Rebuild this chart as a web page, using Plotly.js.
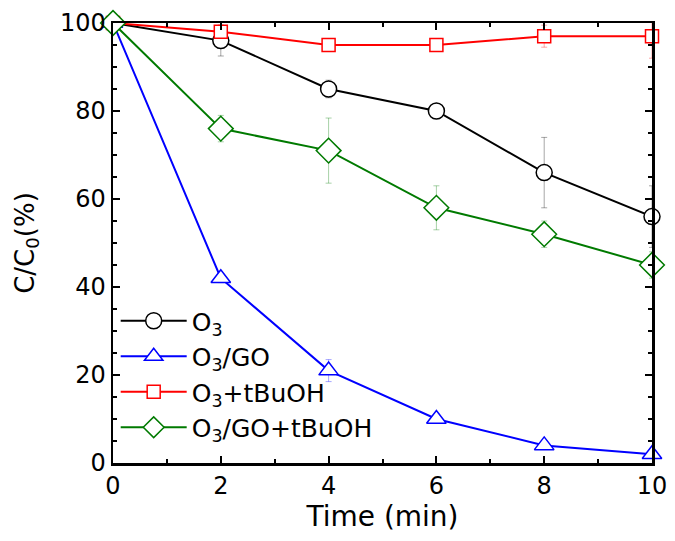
<!DOCTYPE html>
<html>
<head>
<meta charset="utf-8">
<script src="https://cdn.plot.ly/plotly-3.0.1.min.js"></script>
<style>html,body{margin:0;padding:0;background:#fff;}#chart{width:675px;height:541px;}</style>
</head>
<body>
<div id="chart"></div>
<script>
const time = [0, 2, 4, 6, 8, 10];
const seriesNames = ['O<sub>3</sub>', 'O<sub>3</sub>/GO', 'O<sub>3</sub>+tBuOH', 'O<sub>3</sub>/GO+tBuOH'];
const o3 = [100, 96, 85, 80, 66, 56];
const o3Err = [0, 3.5, 2, 1, 8, 7];
const o3go = [100, 42, 21, 10, 4, 2];
const o3goErr = [0, 1, 2.5, 1, 0.5, 0.5];
const o3tbuoh = [100, 98, 95, 95, 97, 97];
const o3tbuohErr = [0, 1.5, 1, 1, 2.5, 5];
const o3gotbuoh = [100, 76, 71, 58, 52, 45];
const o3gotbuohErr = [0, 3, 7.4, 5, 3, 3];
const colors = ['#000000', '#0000ff', '#ff0000', '#007a00'];
const errColors = ['rgba(0,0,0,0.35)', 'rgba(0,0,255,0.35)', 'rgba(255,0,0,0.35)', 'rgba(0,122,0,0.35)'];
const symbols = ['circle', 'triangle-up', 'square', 'diamond'];
const sizes = [16, 17, 13, 19];
const ys = [o3, o3go, o3tbuoh, o3gotbuoh];
const errs = [o3Err, o3goErr, o3tbuohErr, o3gotbuohErr];

const traces = ys.map((y, i) => ({
  x: time, y: y, name: seriesNames[i], type: 'scatter', mode: 'lines+markers',
  line: {color: colors[i], width: 2},
  marker: {symbol: symbols[i], size: sizes[i], color: '#ffffff', line: {color: colors[i], width: 1.5}},
  error_y: {type: 'data', array: errs[i], visible: true, color: errColors[i], thickness: 1, width: 3},
  cliponaxis: false
}));

const fam = 'DejaVu Sans, Arial, sans-serif';
const layout = {
  width: 675, height: 541,
  margin: {l: 113, r: 23, t: 23, b: 78},
  paper_bgcolor: '#fff', plot_bgcolor: '#fff',
  font: {family: fam, size: 24, color: '#000'},
  showlegend: true,
  legend: {x: 0.005, y: 0.375, xanchor: 'left', yanchor: 'top', bgcolor: 'rgba(0,0,0,0)', font: {family: fam, size: 25, color: '#000'}, tracegroupgap: 0, itemwidth: 66},
  xaxis: {
    range: [0, 10], tickvals: [0, 2, 4, 6, 8, 10], ticktext: ['0','2','4','6','8','10'],
    ticks: 'inside', ticklen: 7, tickwidth: 2, tickcolor: '#000',
    minor: {dtick: 1, ticks: 'inside', ticklen: 4, tickwidth: 2, tickcolor: '#000'},
    showline: true, linewidth: 2.5, linecolor: '#000', mirror: 'ticks',
    showgrid: false, zeroline: false,
    title: {text: 'Time (min)', font: {family: fam, size: 28, color: '#000'}, standoff: 2},
    tickfont: {family: fam, size: 24, color: '#000'}
  },
  yaxis: {
    range: [0, 100], tickvals: [0, 20, 40, 60, 80, 100], ticktext: ['0','20','40','60','80','100'],
    ticks: 'inside', ticklen: 7, tickwidth: 2, tickcolor: '#000',
    minor: {dtick: 5, ticks: 'inside', ticklen: 4, tickwidth: 2, tickcolor: '#000'},
    showline: true, linewidth: 2.5, linecolor: '#000', mirror: 'ticks',
    showgrid: false, zeroline: false,
    title: {text: 'C/C<sub>0</sub>(%)', font: {family: fam, size: 26, color: '#000'}, standoff: 18},
    tickfont: {family: fam, size: 24, color: '#000'}
  }
};
Plotly.newPlot('chart', traces, layout, {displayModeBar: false, staticPlot: true});
</script>
</body>
</html>
